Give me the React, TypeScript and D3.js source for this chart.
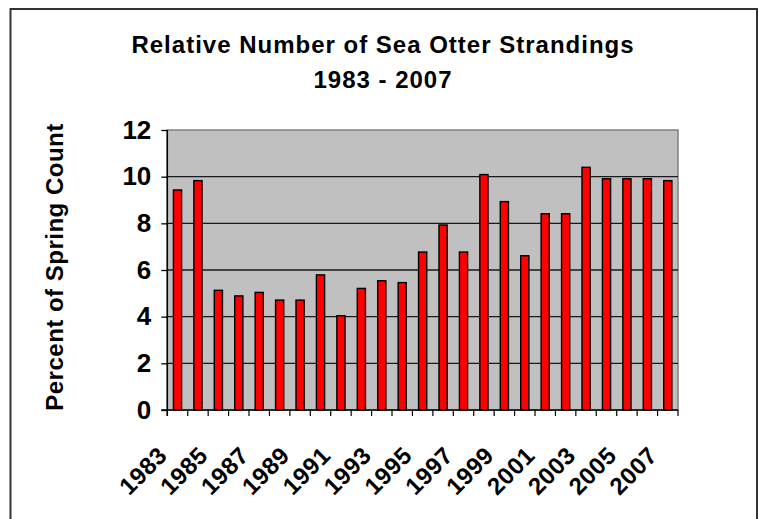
import { useEffect, useRef } from "react";
import * as d3 from "d3";

const years = [
  "1983", "1984", "1985", "1986", "1987", "1988", "1989", "1990", "1991",
  "1992", "1993", "1994", "1995", "1996", "1997", "1998", "1999", "2000",
  "2001", "2002", "2003", "2004", "2005", "2006", "2007",
];
const percentOfSpringCount = [
  9.43, 9.83, 5.13, 4.89, 5.04, 4.71, 4.71, 5.79, 4.04, 5.21, 5.54, 5.46,
  6.77, 7.93, 6.77, 10.09, 8.93, 6.61, 8.41, 8.41, 10.4, 9.91, 9.91, 9.91, 9.83,
];
const yTicks = [0, 2, 4, 6, 8, 10, 12];
const labelledYears = [
  "1983", "1985", "1987", "1989", "1991", "1993", "1995", "1997", "1999",
  "2001", "2003", "2005", "2007",
];

const WIDTH = 759;
const HEIGHT = 519;
const FONT = "Arial, 'Liberation Sans', sans-serif";

export default function App() {
  const svgRef = useRef<SVGSVGElement | null>(null);

  useEffect(() => {
    const svg = d3.select(svgRef.current);
    svg.selectAll("*").remove();

    const margin = { top: 130, right: 81, bottom: 109, left: 167.3 };
    const innerWidth = WIDTH - margin.left - margin.right;
    const innerHeight = HEIGHT - margin.top - margin.bottom;

    // outer frame
    svg
      .append("rect")
      .attr("x", 10.5)
      .attr("y", 9)
      .attr("width", 746.5)
      .attr("height", 540)
      .attr("fill", "#fff")
      .attr("stroke", "#333")
      .attr("stroke-width", 2);

    // title
    const title = svg
      .append("text")
      .attr("text-anchor", "middle")
      .style("font-family", FONT)
      .style("font-weight", "bold")
      .style("font-size", "24px")
      .style("letter-spacing", "1px")
      .attr("fill", "#000");
    title.append("tspan").attr("x", 383).attr("y", 53).text("Relative Number of Sea Otter Strandings");
    title.append("tspan").attr("x", 383).attr("y", 88).text("1983 - 2007");

    const x = d3
      .scaleBand()
      .domain(years)
      .range([0, innerWidth])
      .paddingInner(0.6)
      .paddingOuter(0.3);
    const boundary = d3.scaleLinear().domain([0, years.length]).range([0, innerWidth]);
    const y = d3.scaleLinear().domain([0, 12]).range([innerHeight, 0]);

    const g = svg
      .append("g")
      .attr("transform", `translate(${margin.left},${margin.top})`);

    // plot background
    g.append("rect")
      .attr("width", innerWidth)
      .attr("height", innerHeight)
      .attr("fill", "#c0c0c0")
      .attr("stroke", "#808080")
      .attr("stroke-width", 1.5);

    // gridlines
    g.selectAll(".grid")
      .data(yTicks.filter((t) => t > 0 && t < 12))
      .enter()
      .append("line")
      .attr("x1", 0)
      .attr("x2", innerWidth)
      .attr("y1", (d) => y(d))
      .attr("y2", (d) => y(d))
      .attr("stroke", "#1a1a1a")
      .attr("stroke-width", 1.3);

    // bars
    g.selectAll(".bar")
      .data(percentOfSpringCount)
      .enter()
      .append("rect")
      .attr("class", "bar")
      .attr("x", (_, i) => x(years[i]) || 0)
      .attr("y", (d) => y(d))
      .attr("width", x.bandwidth())
      .attr("height", (d) => innerHeight - y(d))
      .attr("fill", "#ff0000")
      .attr("stroke", "#000")
      .attr("stroke-width", 1.4);

    // y axis
    const yAxis = g.append("g");
    yAxis.call(d3.axisLeft(y).tickValues(yTicks).tickSize(6).tickPadding(10));
    yAxis.select(".domain").attr("stroke", "#000").attr("stroke-width", 1.5).attr("d", `M0,0V${innerHeight + 6}`);
    yAxis.selectAll(".tick line").attr("stroke", "#000").attr("stroke-width", 1.3);
    yAxis
      .selectAll(".tick text")
      .style("font-family", FONT)
      .style("font-weight", "bold")
      .style("font-size", "26px")
      .attr("fill", "#000");

    // x axis: ticks at category boundaries
    const xAxis = g.append("g").attr("transform", `translate(0,${innerHeight})`);
    xAxis
      .append("line")
      .attr("x1", -6)
      .attr("x2", innerWidth)
      .attr("stroke", "#000")
      .attr("stroke-width", 1.5);
    xAxis
      .selectAll(".xtick")
      .data(d3.range(years.length + 1))
      .enter()
      .append("line")
      .attr("x1", (d) => boundary(d))
      .attr("x2", (d) => boundary(d))
      .attr("y1", 0)
      .attr("y2", 6)
      .attr("stroke", "#000")
      .attr("stroke-width", 1.2);
    xAxis
      .selectAll(".xlabel")
      .data(labelledYears)
      .enter()
      .append("text")
      .attr(
        "transform",
        (d) => `translate(${(x(d) || 0) + x.bandwidth() / 2 - 9},${47}) rotate(-45)`
      )
      .attr("text-anchor", "end")
      .style("font-family", FONT)
      .style("font-weight", "bold")
      .style("font-size", "24px")
      .style("letter-spacing", "0.5px")
      .attr("fill", "#000")
      .text((d) => d);

    // y axis title
    svg
      .append("text")
      .attr("transform", `translate(63,${margin.top + innerHeight / 2 - 3}) rotate(-90)`)
      .attr("text-anchor", "middle")
      .style("font-family", FONT)
      .style("font-weight", "bold")
      .style("font-size", "24px")
      .style("letter-spacing", "0.5px")
      .attr("fill", "#000")
      .text("Percent of Spring Count");
  }, []);

  return (
    <svg
      ref={svgRef}
      width={WIDTH}
      height={HEIGHT}
      style={{ position: "absolute", left: 0, top: 0, background: "#fff" }}
    />
  );
}
